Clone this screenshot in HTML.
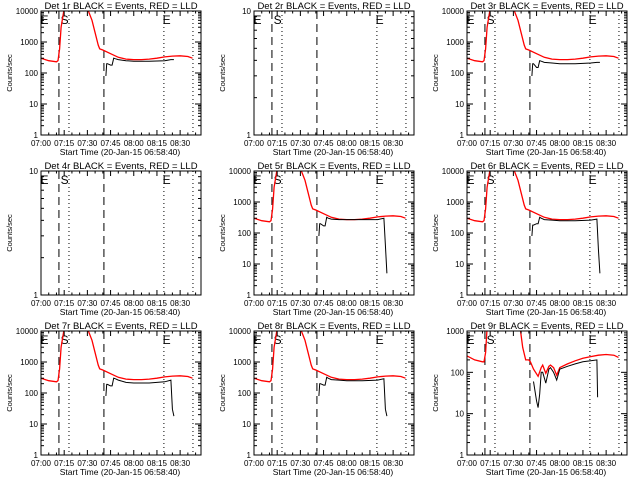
<!DOCTYPE html>
<html><head><meta charset="utf-8">
<style>
html,body{margin:0;padding:0;background:#fff;}
svg{display:block;}
text{font-family:"Liberation Sans",sans-serif;fill:#000;}
</style></head>
<body>
<svg id="chart" width="640" height="480" viewBox="0 0 640 480" xmlns="http://www.w3.org/2000/svg"></svg>
<script>
// ---- data ----
const detNames = ["1r","2r","3r","4r","5r","6r","7r","8r","9r"];
const xTickLabels = ["07:00","07:15","07:30","07:45","08:00","08:15","08:30"];
const xTickMinutes = [0,15,30,45,60,75,90];
const dashedMinutes = [11.6, 40.7];
const dottedMinutes = [18.1, 79.5, 98.3];
const yMin = [1,1,1,1,1,1,1,1,1];
const yMax = [10000,10,10000,10,10000,10000,10000,10000,1000];
// red (LLD) series
const redT = [0,5,10,11,12,13,15,30,33,35,37,38,40,45,50,55,60,65,70,75,80,85,90,95,98];
const redBase = [300,250,230,250,600,3000,12000,12000,5000,2000,800,600,550,420,320,280,270,270,280,300,330,350,360,340,300];
const redP9T = [0,5,10,11,12,13,15,34,36,38,40,41,43,46,48,49,51,53,54,56,58,60,65,70,75,80,85,90,95,98];
const redP9 = [250,200,180,180,300,1200,1500,1500,400,200,200,180,120,80,130,150,95,140,150,130,85,130,160,190,220,240,260,270,260,230];
// black (Events) series
const blkT = [42,42.5,43,45,46,47,48,50,55,60,70,80,84,85,86];
const blk1 = [80,200,200,180,180,300,290,270,250,240,240,250,270,270,270];
const blk3 = [80,200,200,150,150,250,240,220,210,200,200,210,220,220,220];
const blk5 = [80,200,200,170,170,320,300,280,270,270,270,270,300,40,5];
const blk6 = [80,180,180,200,200,320,300,270,260,250,250,260,280,30,5];
const blk7 = [80,190,190,170,170,300,290,260,220,210,210,230,260,30,18];
const blk8 = [80,200,200,180,180,320,300,270,260,250,250,260,290,30,18];
const blkP9T = [43,45,46,47,48,49,51,53,54,56,58,60,65,70,75,80,84,84.5];
const blkP9 = [60,20,14,30,100,100,55,120,130,100,65,120,140,160,180,190,200,25];
const redSeries = [redBase,null,redBase,null,redBase,redBase,redBase,redBase,redP9];
const blackSeries = [blk1,null,blk3,null,blk5,blk6,blk7,blk8,blkP9];

// ---- drawing ----
const NS="http://www.w3.org/2000/svg";
const svg=document.getElementById('chart');
function mk(tag,attrs,parent){const e=document.createElementNS(NS,tag);for(const k in attrs)e.setAttribute(k,attrs[k]);(parent||svg).appendChild(e);return e;}
const X0=41,X1=201,Y0=11,Y1=135,TMAX=103.5;

for(let p=0;p<9;p++){
  const ox=(p%3)*213, oy=Math.floor(p/3)*160;
  const g=mk('g',{transform:`translate(${ox},${oy})`});
  
  
  const lmin=Math.log10(yMin[p]), lmax=Math.log10(yMax[p]);
  const xs=t=>X0+(X1-X0)*t/TMAX;
  const ys=v=>Y1-(Y1-Y0)*(Math.log10(Math.max(v,1e-3))-lmin)/(lmax-lmin);
  const cid='clip'+p;
  const cp=mk('clipPath',{id:cid},g); mk('rect',{x:X0,y:Y0,width:X1-X0,height:Y1-Y0},cp);

  const title=mk('text',{x:121,y:9,'font-size':'9.5','text-anchor':'middle'},g);
  title.textContent='Det '+detNames[p]+' BLACK = Events, RED = LLD';
  
  

  dashedMinutes.forEach(m=>{const l=mk('line',{x1:xs(m),x2:xs(m),y1:Y0,y2:Y1,stroke:'#000','stroke-width':1,'stroke-dasharray':'8,5'},g);
    });
  dottedMinutes.forEach(m=>{const l=mk('line',{x1:xs(m),x2:xs(m),y1:Y0,y2:Y1,stroke:'#000','stroke-width':1,'stroke-dasharray':'1,3'},g);
    });
  [['E',1],['S',14],['E',80]].forEach(([s,m])=>{const t=mk('text',{x:xs(m)-2,y:Y0+13,'font-size':'12'},g);t.textContent=s;
    });

  function line(T,V,color,name){
    if(!V)return;
    let d='';T.forEach((t,i)=>{d+=(i?'L':'M')+xs(t).toFixed(1)+','+ys(V[i]).toFixed(1);});
    const pth=mk('path',{d,fill:'none',stroke:color,'stroke-width':color==='#000'?1:1.3,'clip-path':`url(#${cid})`},g);
    
  }
  line(p===8?redP9T:redT,redSeries[p],'#f00','lld-line');
  line(p===8?blkP9T:blkT,blackSeries[p],'#000','events-line');

  const box=mk('rect',{x:X0,y:Y0,width:X1-X0,height:Y1-Y0,fill:'none',stroke:'#000','stroke-width':1},g);
  

  xTickMinutes.forEach((m,i)=>{const x=xs(m);
    mk('line',{x1:x,x2:x,y1:Y1,y2:Y1-5,stroke:'#000'},g);mk('line',{x1:x,x2:x,y1:Y0,y2:Y0+5,stroke:'#000'},g);
    const t=mk('text',{x:x,y:Y1+11,'font-size':'8','text-anchor':'middle'},g);t.textContent=xTickLabels[i];
    });
  for(let m=5;m<TMAX;m+=5){if(m%15===0)continue;const x=xs(m);
    mk('line',{x1:x,x2:x,y1:Y1,y2:Y1-2.5,stroke:'#000'},g);mk('line',{x1:x,x2:x,y1:Y0,y2:Y0+2.5,stroke:'#000'},g);}
  const xl=mk('text',{x:120,y:Y1+20,'font-size':'8.5','text-anchor':'middle'},g);
  xl.textContent='Start Time (20-Jan-15 06:58:40)';
  

  for(let e=Math.round(lmin);e<=Math.round(lmax);e++){
    const y=ys(Math.pow(10,e));
    mk('line',{x1:X0,x2:X0+6,y1:y,y2:y,stroke:'#000'},g);mk('line',{x1:X1,x2:X1-6,y1:y,y2:y,stroke:'#000'},g);
    const t=mk('text',{x:X0-3,y:y+3,'font-size':'8','text-anchor':'end'},g);t.textContent=String(Math.pow(10,e));
    
    if(e<Math.round(lmax))for(let k=2;k<10;k++){const yy=ys(k*Math.pow(10,e));
      mk('line',{x1:X0,x2:X0+3,y1:yy,y2:yy,stroke:'#000'},g);mk('line',{x1:X1,x2:X1-3,y1:yy,y2:yy,stroke:'#000'},g);}
  }
  const yl=mk('text',{x:0,y:0,'font-size':'7.5','text-anchor':'middle',transform:`translate(12,${(Y0+Y1)/2}) rotate(-90)`},g);
  yl.textContent='Counts/sec';
  
}
</script>
</body></html>
